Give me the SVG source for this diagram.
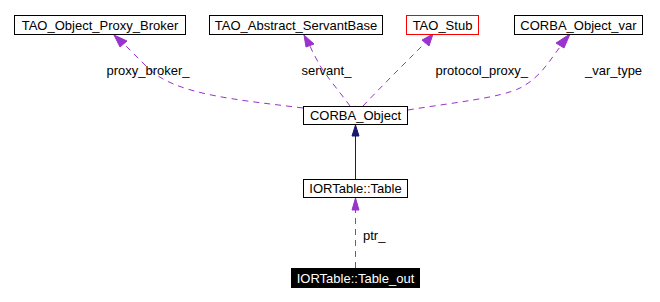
<svg xmlns="http://www.w3.org/2000/svg" width="660" height="302" viewBox="0 0 660 302">
  <style>
    text { font-family: "Liberation Sans", Arial, sans-serif; font-size: 13px; fill: #000; }
    .node rect { fill: #fff; stroke: #000; stroke-width: 1; }
    .node text { text-anchor: middle; }
    .use { fill: none; stroke: #9a32cd; stroke-width: 1; stroke-dasharray: 6,5; }
    .inh { fill: none; stroke: #191970; stroke-width: 1; }
    .head-use { fill: #9a32cd; stroke: #9a32cd; }
    .head-inh { fill: #191970; stroke: #191970; }
  </style>
  <rect width="660" height="302" fill="#fff"/>

  <!-- connectors -->
  <g id="edges">
    <!-- proxy_broker_ -->
    <path class="use" d="M303,108 C240,100 175,95 148,68 C139,59 131,51 124,44"/>
    <polygon class="head-use" points="114,35 127,41 120,47"/>
    <text x="106.5" y="75">proxy_broker_</text>
    <!-- servant_ -->
    <path class="use" d="M350,106 C340,92 325,75 318,62 C315,56 312,51 310,46"/>
    <polygon class="head-use" points="304,35 314,44 306,47"/>
    <text x="301.5" y="75">servant_</text>
    <!-- protocol_proxy_ -->
    <path class="use" d="M363,106 C378,90 400,68 414,54 C419,49 423,45 426,42"/>
    <polygon class="head-use" points="433,34 429,46 422,40"/>
    <text x="435.5" y="75">protocol_proxy_</text>
    <!-- _var_type -->
    <path class="use" d="M408,110 C450,103 500,98 520,88 C540,78 550,60 560,47"/>
    <polygon class="head-use" points="570,34 564,48 556,43"/>
    <text x="585" y="75">_var_type</text>
    <!-- inheritance -->
    <path class="inh" d="M355.5,179 L355.5,136"/>
    <polygon class="head-inh" points="355.5,125 359,136 352,136"/>
    <!-- ptr_ -->
    <path class="use" d="M355.5,268 L355.5,210"/>
    <polygon class="head-use" points="355.5,198 359,210 352,210"/>
    <text x="363" y="240">ptr_</text>
  </g>

  <g id="TAO_Object_Proxy_Broker" class="node">
    <rect x="14.5" y="15.5" width="171" height="19"/>
    <text x="100" y="29.5">TAO_Object_Proxy_Broker</text>
  </g>
  <g id="TAO_Abstract_ServantBase" class="node">
    <rect x="209.5" y="15.5" width="173" height="19"/>
    <text x="296" y="29.5">TAO_Abstract_ServantBase</text>
  </g>
  <g id="TAO_Stub" class="node">
    <rect x="406.5" y="15.5" width="72" height="19" style="stroke:#ff0000"/>
    <text x="442.5" y="29.5">TAO_Stub</text>
  </g>
  <g id="CORBA_Object_var" class="node">
    <rect x="514.5" y="15.5" width="128" height="19"/>
    <text x="578.5" y="29.5">CORBA_Object_var</text>
  </g>
  <g id="CORBA_Object" class="node">
    <rect x="303.5" y="106.5" width="104" height="18"/>
    <text x="355.5" y="120">CORBA_Object</text>
  </g>
  <g id="IORTable_Table" class="node">
    <rect x="303.5" y="179.5" width="104" height="18"/>
    <text x="355.5" y="193">IORTable::Table</text>
  </g>
  <g id="IORTable_Table_out" class="node">
    <rect x="291.5" y="268.5" width="128" height="19" style="fill:#000"/>
    <text x="355.5" y="283" style="fill:#fff">IORTable::Table_out</text>
  </g>
</svg>
